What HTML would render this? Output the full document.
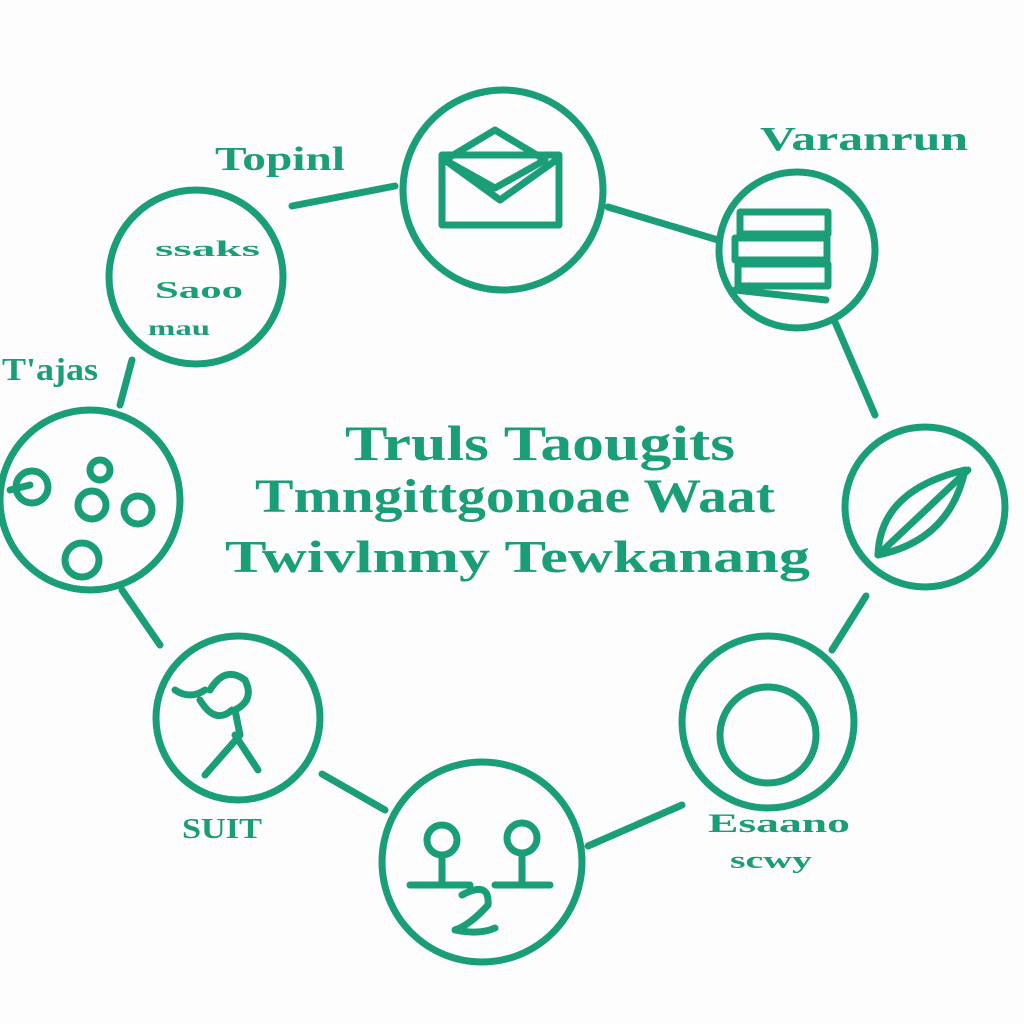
<!DOCTYPE html>
<html><head><meta charset="utf-8"><style>
html,body{margin:0;padding:0;background:#fdfdfd;}
svg{display:block}
text{font-family:"Liberation Serif",serif;fill:#1a9e78;font-weight:bold}
</style></head><body>
<svg width="1024" height="1024" viewBox="0 0 1024 1024" xmlns="http://www.w3.org/2000/svg">
<rect width="1024" height="1024" fill="#fdfdfd"/>
<g fill="none" stroke="#1a9e78" stroke-width="7" stroke-linecap="round" stroke-linejoin="round">
<path d="M292 206 L395 186"/>
<path d="M608 207 L718 240"/>
<path d="M835 322 L875 415"/>
<path d="M866 596 L832 650"/>
<path d="M682 805 L588 846"/>
<path d="M385 810 L322 774"/>
<path d="M160 645 L122 590"/>
<path d="M120 405 L132 360"/>
<circle cx="503" cy="190" r="100"/>
<circle cx="797" cy="250" r="78"/>
<circle cx="925" cy="507" r="80"/>
<circle cx="768" cy="722" r="86"/>
<circle cx="482" cy="862" r="100"/>
<circle cx="238" cy="718" r="82"/>
<circle cx="90" cy="500" r="90"/>
<circle cx="196" cy="277" r="87"/>
<rect x="442" y="155" width="117" height="70"/>
<path d="M445 160 L495 130 L545 160 L495 188 Z"/>
<path d="M442 158 L500 200 L559 158"/>
<rect x="740" y="212" width="88" height="22"/>
<rect x="735" y="238" width="92" height="22"/>
<rect x="738" y="264" width="90" height="22"/>
<path d="M735 290 L826 300"/>
<path d="M878 555 Q880 490 965 470 Q950 540 878 555 Z"/>
<path d="M878 555 L968 470"/>
<circle cx="768" cy="735" r="48"/>
<circle cx="442" cy="840" r="15"/>
<circle cx="522" cy="838" r="15"/>
<path d="M442 855 L442 885 M522 853 L522 885 M410 885 L470 885 M495 885 L550 885"/>
<path d="M462 895 Q490 880 488 905 Q470 925 455 930 Q480 935 495 928"/>
<path d="M210 690 Q225 665 245 680 Q255 700 235 710 L240 735 L205 775 M235 735 L258 770 M200 700 Q215 725 232 710 M175 690 Q190 700 205 690"/>
<circle cx="32" cy="487" r="16"/>
<circle cx="100" cy="470" r="10"/>
<circle cx="92" cy="505" r="14"/>
<circle cx="138" cy="510" r="14"/>
<circle cx="82" cy="560" r="17"/>
<path d="M10 490 L30 485"/>
</g>
<text x="215" y="170" font-size="34" textLength="130" lengthAdjust="spacingAndGlyphs">Topinl</text>
<text x="760" y="150" font-size="34" textLength="208" lengthAdjust="spacingAndGlyphs">Varanrun</text>
<text x="2" y="380" font-size="32" textLength="96" lengthAdjust="spacingAndGlyphs">T'ajas</text>
<text x="182" y="838" font-size="28" textLength="80" lengthAdjust="spacingAndGlyphs">SUIT</text>
<text x="708" y="832" font-size="26" textLength="142" lengthAdjust="spacingAndGlyphs">Esaano</text>
<text x="730" y="868" font-size="24" textLength="82" lengthAdjust="spacingAndGlyphs">scwy</text>
<text x="155" y="256" font-size="22" textLength="105" lengthAdjust="spacingAndGlyphs">ssaks</text>
<text x="155" y="298" font-size="24" textLength="88" lengthAdjust="spacingAndGlyphs">Saoo</text>
<text x="148" y="335" font-size="20" textLength="62" lengthAdjust="spacingAndGlyphs">mau</text>
<text x="345" y="460" font-size="50" textLength="390" lengthAdjust="spacingAndGlyphs">Truls Taougits</text>
<text x="255" y="512" font-size="48" textLength="520" lengthAdjust="spacingAndGlyphs">Tmngittgonoae Waat</text>
<text x="225" y="572" font-size="46" textLength="585" lengthAdjust="spacingAndGlyphs">Twivlnmy Tewkanang</text>
</svg>
</body></html>
